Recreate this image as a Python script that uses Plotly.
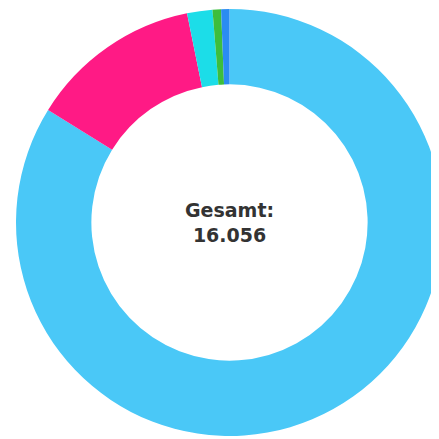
import plotly.graph_objects as go

# Kategorien und Werte (Summe = 16.056)
labels = ['A', 'B', 'C', 'D', 'E']
values = [13461, 2083, 308, 103, 101]
colors = ['#4AC8F7', '#FF1A85', '#1CDDE8', '#3DBE3D', '#2B8CF2']
total_text = 'Gesamt:<br>16.056'

fig = go.Figure(go.Pie(
    labels=labels,
    values=values,
    hole=0.647,
    sort=False,
    direction='clockwise',
    rotation=0,
    textinfo='none',
    marker=dict(colors=colors, line=dict(width=0)),
    showlegend=False,
))

fig.add_annotation(
    text=total_text,
    x=0.5, y=0.5, xref='paper', yref='paper',
    showarrow=False,
    font=dict(family='DejaVu Sans', size=19, color='#333333', weight='bold'),
)

# die Seite hat 8px Rand, deshalb kleinere Margins
fig.update_layout(
    width=439, height=439,
    margin=dict(l=8, r=4, t=1, b=11),
    paper_bgcolor='white',
    plot_bgcolor='white',
)

fig.write_html("out.html")
